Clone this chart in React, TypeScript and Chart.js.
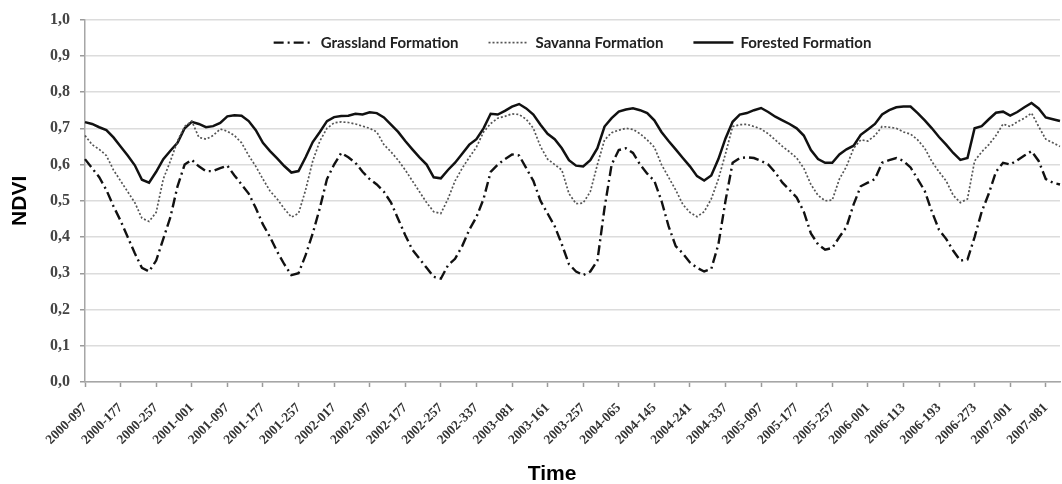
import React, { useEffect, useRef } from 'react';
import { Chart, registerables } from 'chart.js';

Chart.register(...registerables);

const categories = [
  '2000-097', '2000-113', '2000-129', '2000-145', '2000-161',
  '2000-177', '2000-193', '2000-209', '2000-225', '2000-241',
  '2000-257', '2000-273', '2000-289', '2000-305', '2000-321',
  '2001-001', '2001-017', '2001-033', '2001-049', '2001-065',
  '2001-097', '2001-113', '2001-129', '2001-145', '2001-161',
  '2001-177', '2001-193', '2001-209', '2001-225', '2001-241',
  '2001-257', '2001-273', '2001-289', '2001-305', '2001-321',
  '2002-017', '2002-033', '2002-049', '2002-065', '2002-081',
  '2002-097', '2002-113', '2002-129', '2002-145', '2002-161',
  '2002-177', '2002-193', '2002-209', '2002-225', '2002-241',
  '2002-257', '2002-273', '2002-289', '2002-305', '2002-321',
  '2002-337', '2002-353', '2003-001', '2003-017', '2003-033',
  '2003-081', '2003-097', '2003-113', '2003-129', '2003-145',
  '2003-161', '2003-177', '2003-193', '2003-209', '2003-225',
  '2003-257', '2003-273', '2003-289', '2003-305', '2003-321',
  '2004-065', '2004-081', '2004-097', '2004-113', '2004-129',
  '2004-145', '2004-161', '2004-177', '2004-193', '2004-209',
  '2004-241', '2004-257', '2004-273', '2004-289', '2004-305',
  '2004-337', '2004-353', '2005-001', '2005-017', '2005-033',
  '2005-097', '2005-113', '2005-129', '2005-145', '2005-161',
  '2005-177', '2005-193', '2005-209', '2005-225', '2005-241',
  '2005-257', '2005-273', '2005-289', '2005-305', '2005-321',
  '2006-001', '2006-017', '2006-033', '2006-049', '2006-065',
  '2006-113', '2006-129', '2006-145', '2006-161', '2006-177',
  '2006-193', '2006-209', '2006-225', '2006-241', '2006-257',
  '2006-273', '2006-289', '2006-305', '2006-321', '2006-337',
  '2007-001', '2007-017', '2007-033', '2007-049', '2007-065',
  '2007-081', '2007-097', '2007-113',
];

const grassland = [
  0.615, 0.590, 0.565, 0.530, 0.485, 0.445, 0.400, 0.355, 0.315, 0.305,
  0.335, 0.395, 0.455, 0.540, 0.600, 0.613, 0.595, 0.582, 0.582, 0.590,
  0.597, 0.570, 0.545, 0.520, 0.480, 0.435, 0.400, 0.360, 0.325, 0.295,
  0.300, 0.350, 0.410, 0.480, 0.560, 0.600, 0.632, 0.620, 0.605, 0.580,
  0.560, 0.545, 0.525, 0.495, 0.450, 0.405, 0.365, 0.340, 0.315, 0.290,
  0.285, 0.322, 0.340, 0.375, 0.420, 0.455, 0.505, 0.580, 0.600, 0.615,
  0.628, 0.625, 0.590, 0.555, 0.500, 0.465, 0.430, 0.380, 0.325, 0.305,
  0.295, 0.305, 0.335, 0.480, 0.600, 0.640, 0.645, 0.632, 0.600, 0.575,
  0.555, 0.500, 0.430, 0.375, 0.355, 0.330, 0.315, 0.305, 0.312, 0.380,
  0.500, 0.605, 0.618, 0.620, 0.618, 0.610, 0.600, 0.578, 0.550, 0.530,
  0.509, 0.470, 0.410, 0.380, 0.365, 0.370, 0.400, 0.428, 0.490, 0.540,
  0.550, 0.560, 0.605, 0.612, 0.618, 0.610, 0.592, 0.560, 0.527, 0.470,
  0.420, 0.395, 0.362, 0.335, 0.338, 0.400, 0.470, 0.520, 0.580, 0.605,
  0.600, 0.612, 0.625, 0.637, 0.610, 0.560, 0.550, 0.545,
];

const savanna = [
  0.680, 0.655, 0.642, 0.625, 0.585, 0.555, 0.525, 0.495, 0.452, 0.443,
  0.468, 0.560, 0.610, 0.665, 0.705, 0.720, 0.675, 0.670, 0.680, 0.698,
  0.692, 0.680, 0.660, 0.625, 0.595, 0.560, 0.527, 0.505, 0.478, 0.455,
  0.465, 0.530, 0.610, 0.665, 0.700, 0.715, 0.718, 0.716, 0.712, 0.706,
  0.700, 0.690, 0.655, 0.635, 0.612, 0.585, 0.555, 0.525, 0.495, 0.470,
  0.465, 0.505, 0.555, 0.590, 0.620, 0.648, 0.690, 0.713, 0.728, 0.733,
  0.740, 0.738, 0.725, 0.700, 0.650, 0.615, 0.600, 0.585, 0.520, 0.492,
  0.494, 0.525, 0.600, 0.668, 0.688, 0.695, 0.700, 0.697, 0.685, 0.668,
  0.648, 0.600, 0.565, 0.530, 0.490, 0.468, 0.456, 0.470, 0.505, 0.560,
  0.630, 0.705, 0.710, 0.711, 0.705, 0.698, 0.685, 0.668, 0.650, 0.635,
  0.618, 0.590, 0.545, 0.515, 0.500, 0.502, 0.560, 0.595, 0.645, 0.668,
  0.665, 0.680, 0.705, 0.703, 0.700, 0.690, 0.684, 0.668, 0.645, 0.608,
  0.580, 0.555, 0.515, 0.495, 0.505, 0.610, 0.635, 0.655, 0.680, 0.712,
  0.705, 0.718, 0.728, 0.742, 0.705, 0.670, 0.660, 0.650,
];

const forested = [
  0.717, 0.712, 0.703, 0.695, 0.675, 0.650, 0.625, 0.598, 0.558, 0.550,
  0.580, 0.615, 0.638, 0.660, 0.700, 0.718, 0.712, 0.703, 0.706, 0.715,
  0.733, 0.736, 0.735, 0.720, 0.695, 0.660, 0.637, 0.617, 0.596, 0.578,
  0.582, 0.620, 0.662, 0.690, 0.720, 0.731, 0.734, 0.735, 0.740, 0.738,
  0.744, 0.742, 0.730, 0.710, 0.690, 0.665, 0.642, 0.620, 0.600, 0.565,
  0.562, 0.585, 0.605, 0.630, 0.655, 0.670, 0.700, 0.740, 0.738, 0.748,
  0.760, 0.767, 0.755, 0.738, 0.710, 0.685, 0.670, 0.645, 0.612, 0.597,
  0.595, 0.612, 0.645, 0.705, 0.728, 0.746, 0.752, 0.755, 0.750, 0.742,
  0.722, 0.690, 0.665, 0.642, 0.618, 0.595, 0.568, 0.556, 0.570, 0.615,
  0.672, 0.718, 0.738, 0.742, 0.750, 0.756, 0.745, 0.732, 0.722, 0.712,
  0.700, 0.680, 0.640, 0.615, 0.605, 0.605, 0.628, 0.642, 0.652, 0.682,
  0.697, 0.712, 0.738, 0.750, 0.758, 0.760, 0.760, 0.742, 0.722, 0.700,
  0.676, 0.655, 0.632, 0.613, 0.618, 0.700, 0.706, 0.725, 0.743, 0.746,
  0.735, 0.745, 0.758, 0.770, 0.755, 0.730, 0.725, 0.720,
];

const seriesNames = ['Grassland Formation', 'Savanna Formation', 'Forested Formation'];
const labelEvery = 5;
const yMin = 0;
const yMax = 1;
const yStep = 0.1;
const xTitle = 'Time';
const yTitle = 'NDVI';

const insideLegend = {
  id: 'insideLegend',
  afterDatasetsDraw(chart: any) {
    const ctx = chart.ctx;
    const area = chart.chartArea;
    ctx.save();
    ctx.font = 'bold 15px Lato';
    const sample = 40;
    const gap = 7;
    const itemGap = 30;
    const items = chart.data.datasets.map((ds: any) => ({ ds, w: ctx.measureText(ds.label).width }));
    const total =
      items.reduce((s: number, it: any) => s + sample + gap + it.w, 0) + itemGap * (items.length - 1);
    let x = (area.left + area.right) / 2 - total / 2;
    const y = area.top + 23;
    items.forEach((it: any) => {
      ctx.save();
      ctx.strokeStyle = it.ds.borderColor;
      ctx.lineWidth = it.ds.borderWidth;
      ctx.setLineDash(it.ds.borderDash || []);
      ctx.beginPath();
      ctx.moveTo(x, y);
      ctx.lineTo(x + sample, y);
      ctx.stroke();
      ctx.restore();
      ctx.fillStyle = '#222';
      ctx.textBaseline = 'middle';
      ctx.textAlign = 'left';
      ctx.fillText(it.ds.label, x + sample + gap, y + 1);
      x += sample + gap + it.w + itemGap;
    });
    ctx.restore();
  },
  afterDraw(chart: any) {
    const ctx = chart.ctx;
    const area = chart.chartArea;
    ctx.save();
    ctx.font = 'bold 21px "Liberation Sans", Arial, sans-serif';
    ctx.fillStyle = '#000';
    ctx.textAlign = 'center';
    ctx.textBaseline = 'alphabetic';
    ctx.fillText(xTitle, area.left + (area.right - area.left) * 0.479, chart.height - 4);
    ctx.restore();
  },
};

export default function App() {
  const ref = useRef<HTMLCanvasElement | null>(null);

  useEffect(() => {
    if (!ref.current) return;
    const chart = new Chart(ref.current, {
      type: 'line',
      data: {
        labels: categories,
        datasets: [
          {
            label: seriesNames[0],
            data: grassland,
            borderColor: '#111',
            borderWidth: 2.4,
            borderDash: [10, 4, 2, 4],
            pointRadius: 0,
            tension: 0,
            fill: false,
          },
          {
            label: seriesNames[1],
            data: savanna,
            borderColor: '#555',
            borderWidth: 1.7,
            borderDash: [2, 2],
            pointRadius: 0,
            tension: 0,
            fill: false,
          },
          {
            label: seriesNames[2],
            data: forested,
            borderColor: '#111',
            borderWidth: 2.5,
            pointRadius: 0,
            tension: 0,
            fill: false,
          },
        ],
      },
      options: {
        animation: false,
        responsive: false,
        maintainAspectRatio: false,
        layout: { padding: { top: 16, bottom: 0, left: 0, right: 2 } },
        plugins: {
          legend: { display: false },
          tooltip: { enabled: false },
          title: { display: false },
        },
        scales: {
          x: {
            type: 'category',
            offset: false,
            afterFit(scale: any) {
              scale.height = 102;
              scale.paddingLeft = 0;
              scale.paddingRight = 0;
            },
            grid: {
              display: true,
              drawOnChartArea: false,
              drawTicks: true,
              tickLength: 5,
              tickColor: '#9a9a9a',
              tickWidth: 1.5,
            },
            border: { display: true, color: '#a6a6a6', width: 1.5 },
            ticks: {
              autoSkip: false,
              maxRotation: 45,
              minRotation: 45,
              padding: 13,
              color: '#333',
              font: { family: '"Liberation Serif", "DejaVu Serif", serif', size: 13.5, weight: 'bold' },
              callback(_v: any, i: number) {
                return i % labelEvery === 0 ? categories[i] : null;
              },
            },
          },
          y: {
            min: yMin,
            max: yMax,
            afterFit(scale: any) {
              scale.width = 85;
            },
            grid: {
              color: '#dcdcdc',
              lineWidth: 1.5,
              drawTicks: true,
              tickLength: 5,
              tickColor: '#9a9a9a',
            },
            border: { display: true, color: '#a6a6a6', width: 1.5 },
            ticks: {
              stepSize: yStep,
              padding: 10,
              color: '#444',
              font: { family: '"Liberation Serif", "DejaVu Serif", serif', size: 16, weight: 'bold' },
              callback(v: any) {
                return Number(v).toFixed(1).replace('.', ',');
              },
            },
            title: {
              display: true,
              text: yTitle,
              color: '#000',
              font: { family: '"Liberation Sans", Arial, sans-serif', size: 21, weight: 'bold' },
              padding: { top: 8, bottom: 0 },
            },
          },
        },
      },
      plugins: [insideLegend],
    });
    return () => chart.destroy();
  }, []);

  return (
    <div style={{ position: 'absolute', left: 0, top: 0, width: 1062, height: 484, background: '#fff' }}>
      <canvas ref={ref} width={1062} height={484} style={{ width: 1062, height: 484, display: 'block' }} />
    </div>
  );
}
